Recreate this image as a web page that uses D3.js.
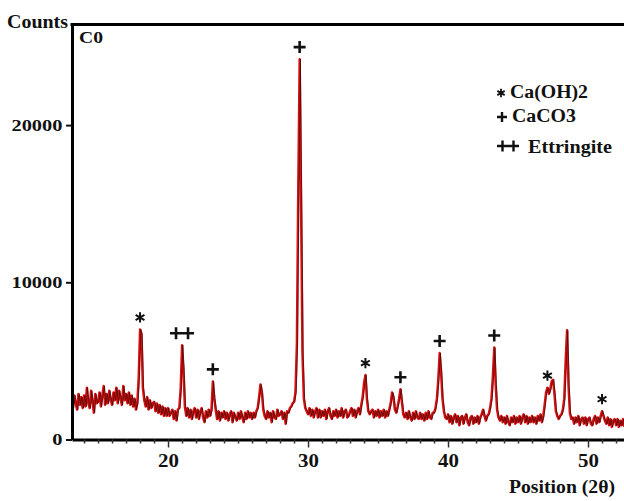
<!DOCTYPE html>
<html>
<head>
<meta charset="utf-8">
<script src="https://cdn.jsdelivr.net/npm/d3@7"></script>
<style>
  body { margin: 0; background: #fff; }
  svg text { font-family: "Liberation Serif", "Times New Roman", serif; font-weight: bold; fill: #111; }
</style>
</head>
<body>
<div id="chart"></div>
<script>
// each row holds the counts read at x.0, x.1 ... x.9 degrees (2 theta)
const rowStarts = [13, 14, 15, 16, 17, 18, 19, 20, 21, 22, 23, 24, 25, 26, 27, 28, 29, 30, 31, 32,
                   33, 34, 35, 36, 37, 38, 39, 40, 41, 42, 43, 44, 45, 46, 47, 48, 49, 50, 51, 52];
const countRows = [
  [2200,2700,2000,2800,2300,1900,2900,2200,2700,2000],
  [2800,2100,3300,2300,2000,3100,2400,1700,2900,2300],
  [2400,3000,2100,2800,3400,2200,2900,2300,3100,2500],
  [2200,3000,2500,3300,2300,3100,2600,2200,3400,2500],
  [2900,2300,3000,2200,2800,2100,2600,1900,2300,3900],
  [7000,6700,3300,2500,2100,2700,1900,2500,2000,2300],
  [2400,1800,2300,1700,2200,1600,2100,1500,2000,1500],
  [2000,1500,1700,1900,1300,1800,1200,1900,2000,3200],
  [6000,4400,2100,1500,2000,1400,1900,1300,1800,2000],
  [1400,1900,1300,1800,2000,1400,1100,1800,1400,1900],
  [1500,1900,3700,2600,1900,1300,1800,1200,1700,1400],
  [1800,1300,1700,1200,1600,1800,1100,1700,1400,1200],
  [1700,1300,1800,1400,1100,1700,1300,1800,1400,1700],
  [1300,1700,1400,1800,2000,2700,3500,3000,1900,1500],
  [1300,1800,1400,1700,1100,1800,1400,1300,1900,1500],
  [1600,1800,1300,1700,1000,1800,1700,2000,2100,2300],
  [2400,3000,6000,16000,24200,15000,5500,2600,2000,1800],
  [1600,2000,1500,1900,1400,1800,2000,1400,1900,1400],
  [1800,1500,1900,1300,1800,2000,1500,1300,1800,1500],
  [1900,1400,1800,1500,2000,1400,1800,1900,1400,1500],
  [1800,2000,1500,1900,1400,1800,2000,1600,2200,2700],
  [3600,4100,2600,1800,1600,1800,1900,1400,1800,1500],
  [1900,1400,1800,1500,1900,1400,1800,1500,1900,2300],
  [3000,2700,1900,1700,2100,2600,3200,2400,1600,1400],
  [1700,1300,1800,1400,1200,1700,1300,1800,1400,1300],
  [1700,1300,1600,1200,1700,1300,1800,1400,1300,1700],
  [1700,2000,2600,3800,5500,4300,2600,1800,1400,1300],
  [1600,1100,1500,1000,1400,1600,1100,1500,900,1400],
  [1500,1000,1400,1600,1100,900,1400,1500,1000,1400],
  [1100,1500,1000,1400,1600,1900,1500,1200,1500,1600],
  [2000,2600,4000,5850,3500,1900,1400,1200,1500,1100],
  [1400,1000,1500,1100,900,1400,1100,1500,1000,1400],
  [1100,1500,1000,1400,1600,1100,1500,1000,1400,1100],
  [1500,1100,1400,1000,1500,1200,1600,1100,1500,2200],
  [3000,3300,2900,3200,3700,3800,2900,1800,1500,1300],
  [1500,1600,1900,2600,5000,6950,3500,1700,1300,1400],
  [1000,1400,1100,1500,900,1300,1400,1000,1400,900],
  [1300,1400,1000,900,1300,1500,1000,1400,1100,1500],
  [1800,1500,1200,1000,1400,900,1300,800,1200,1300],
  [900,1300,800,1200,900,1300,800]
];

const xTicks = [20, 30, 40, 50];
const xMinorTicks = d3.range(14, 53);
const yTicks = [0, 10000, 20000];

// identified peaks
const peakAngles = [18.0, 21.0, 23.2, 29.4, 34.1, 36.6, 39.4, 43.3, 47.1, 51.0];
const peakCounts = [7000, 6000, 3700, 24200, 4100, 3200, 5500, 5850, 3300, 1800];
const peakPhases = ["ch", "et", "cc", "cc", "ch", "cc", "cc", "cc", "ch", "ch"];

const legendPhases = ["ch", "cc", "et"];
const legendLabels = ["Ca(OH)2", "CaCO3", "Ettringite"];

const margin = { top: 24.5, right: 0, bottom: 61.5, left: 72 };
const W = 624, H = 501;

const svg = d3.select("#chart").append("svg").attr("width", W).attr("height", H);

const x = d3.scaleLinear().domain([13.14, 52.57]).range([margin.left, W - margin.right]);
const y = d3.scaleLinear().domain([0, 26400]).range([H - margin.bottom, margin.top]);

let points = [];
countRows.forEach(function(row, i) {
  row.forEach(function(c, j) {
    points.push({ a: rowStarts[i] + j / 10, c: c });
  });
});

svg.append("clipPath").attr("id", "plotclip")
  .append("rect")
  .attr("x", margin.left).attr("y", margin.top)
  .attr("width", W - margin.left - margin.right)
  .attr("height", H - margin.top - margin.bottom);

let line = d3.line()
  .x(function(d) { return x(d.a); })
  .y(function(d) { return y(d.c); });

let traces = svg.append("g").attr("clip-path", "url(#plotclip)");
traces.append("path")
  .attr("d", line(points))
  .attr("fill", "none")
  .attr("stroke", "#dc1010")
  .attr("stroke-width", 2.4)
  .attr("stroke-linejoin", "round");
traces.append("path")
  .attr("d", line(points))
  .attr("transform", "translate(0.8,0)")
  .attr("fill", "none")
  .attr("stroke", "#2e0808")
  .attr("stroke-opacity", 0.8)
  .attr("stroke-width", 0.8)
  .attr("stroke-linejoin", "round");

// x axis
let xAxis = svg.append("g")
  .attr("transform", "translate(0," + y(0) + ")")
  .call(d3.axisBottom(x)
    .tickValues(xMinorTicks)
    .tickSize(4)
    .tickSizeOuter(0)
    .tickPadding(10)
    .tickFormat(function(d) { return xTicks.indexOf(d) >= 0 ? d : ""; }));
xAxis.select(".domain").attr("stroke", "#000").attr("stroke-width", 3);
xAxis.selectAll(".tick line").attr("stroke", "#333").attr("stroke-width", 1.5)
  .attr("y2", function(d) { return xTicks.indexOf(d) >= 0 ? 8 : 4; });
xAxis.selectAll(".tick text")
  .attr("font-size", 19)
  .attr("transform", "scale(1.1,1)");

// y axis
let yAxis = svg.append("g")
  .attr("transform", "translate(" + margin.left + ",0)")
  .call(d3.axisLeft(y)
    .tickValues(yTicks)
    .tickSize(6)
    .tickSizeOuter(0)
    .tickPadding(2)
    .tickFormat(d3.format("d")));
yAxis.select(".domain").attr("stroke", "#000").attr("stroke-width", 3);
yAxis.selectAll(".tick line").attr("stroke", "#111").attr("stroke-width", 2);
yAxis.selectAll(".tick text")
  .attr("font-size", 17)
  .attr("transform", "scale(1.2,1)");

// top frame
svg.append("line")
  .attr("x1", margin.left - 1.5).attr("x2", W)
  .attr("y1", margin.top).attr("y2", margin.top)
  .attr("stroke", "#000").attr("stroke-width", 3);

// marker shapes
function markerPath(type, s) {
  if (type === "cc") return "M" + (-s) + ",0H" + s + "M0," + (-s) + "V" + s;
  if (type === "et") return "M" + (-2 * s) + ",0H" + (2 * s) +
    "M" + (-s) + "," + (-s) + "V" + s + "M" + s + "," + (-s) + "V" + s;
  let r = s * 0.85, p = "";
  [90, 30, 150].forEach(function(deg) {
    let dx = r * Math.cos(deg * Math.PI / 180), dy = r * Math.sin(deg * Math.PI / 180);
    p += "M" + (-dx) + "," + (-dy) + "L" + dx + "," + dy;
  });
  return p;
}

svg.append("g").selectAll("path")
  .data(peakAngles)
  .enter().append("path")
  .attr("transform", function(d, i) { return "translate(" + x(d) + "," + (y(peakCounts[i]) - 12) + ")"; })
  .attr("d", function(d, i) { return markerPath(peakPhases[i], 6); })
  .attr("fill", "none")
  .attr("stroke", "#111")
  .attr("stroke-width", function(d, i) { return peakPhases[i] === "ch" ? 2 : 2.6; });

// legend
let legendY = [93, 117, 146];
let legendX = [510, 512, 528];
let legendLen = [78, 64, 84];
let legendSymX = [501, 502, 508];
let legend = svg.append("g");
legendPhases.forEach(function(ph, i) {
  legend.append("path")
    .attr("transform", "translate(" + legendSymX[i] + "," + legendY[i] + ")")
    .attr("d", markerPath(ph, ph === "cc" ? 5 : (ph === "et" ? 5.5 : 5)))
    .attr("fill", "none")
    .attr("stroke", "#111")
    .attr("stroke-width", ph === "ch" ? 1.8 : 2.4);
  legend.append("text")
    .attr("x", legendX[i]).attr("y", legendY[i] + 5 + (i === 2 ? 2 : 0))
    .attr("font-size", 18)
    .attr("textLength", legendLen[i])
    .attr("lengthAdjust", "spacingAndGlyphs")
    .text(legendLabels[i]);
});

svg.append("text")
  .attr("x", 7).attr("y", 28)
  .attr("font-size", 18)
  .attr("textLength", 61).attr("lengthAdjust", "spacingAndGlyphs")
  .text("Counts");

svg.append("text")
  .attr("x", 79).attr("y", 43)
  .attr("font-size", 17)
  .attr("textLength", 24).attr("lengthAdjust", "spacingAndGlyphs")
  .text("C0");

svg.append("text")
  .attr("x", 509).attr("y", 493)
  .attr("font-size", 19)
  .attr("textLength", 106).attr("lengthAdjust", "spacingAndGlyphs")
  .text("Position (2θ)");
</script>
</body>
</html>
